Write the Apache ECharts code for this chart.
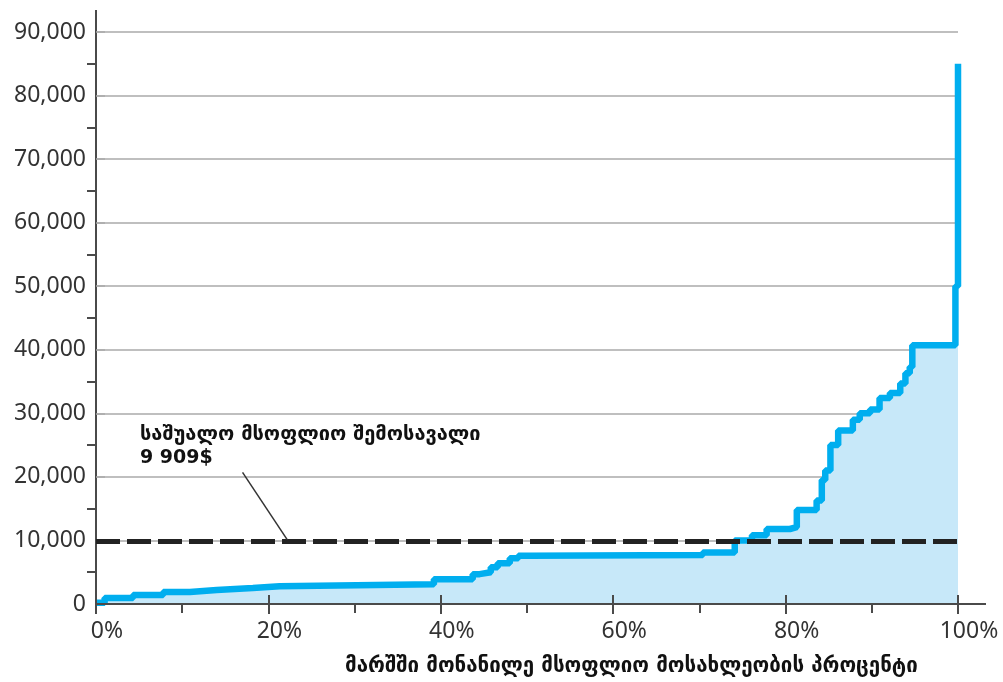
<!DOCTYPE html>
<html>
<head>
<meta charset="utf-8">
<script src="https://cdn.jsdelivr.net/npm/echarts@6/dist/echarts.min.js"></script>
<style>
  html, body { margin: 0; padding: 0; background: #fff; }
  #container { width: 1003px; height: 682px; }
</style>
</head>
<body>
<div id="container"></div>
<script>
let chart = echarts.init(document.getElementById('container'));

// share of world population (%), start of each income step
var popPct = [0, 1.0, 4.3, 7.8, 10.9, 14.0, 18.2, 21.3, 39.2, 43.7, 44.5, 45.8, 46.6, 48.0, 49.0,
    50.3, 70.4, 74.1, 76.1, 77.8, 80.5, 81.3, 83.6, 84.2, 84.6, 85.2, 86.1, 87.8, 88.6, 89.8,
    90.9, 92.1, 93.3, 93.9, 94.4, 94.7, 99.7, 100];
// income level of that step ($)
var income = [200, 950, 1400, 1900, 2200, 2500, 2800, 3100, 3900, 4700, 5000, 5800, 6400, 7200, 7600,
    7700, 8100, 10000, 10800, 11800, 12100, 14800, 16300, 19500, 21000, 25000, 27300, 29000, 30000, 30600,
    32400, 33200, 34700, 36300, 37300, 40700, 50000, 85000];

var avgIncome = 9909;
var avgLabel = ['საშუალო მსოფლიო შემოსავალი', '9 909$'];
var xTitle = 'მარშში მონანილე მსოფლიო მოსახლეობის პროცენტი';
// pointer from the label to the dashed line
var pointerFrom = [17.0, 20700];
var pointerTo = [22.2, 10100];

var points = [];
for (var i in popPct) {
    points.push([popPct[i], income[i]]);
}

var labelFont = 'Noto Sans';
var geoFont = 'DejaVu Sans';
var axisColor = '#4a4a4a';
var gridColor = '#aaaaaa';
var plotBox = { left: 96, right: 45, top: 32, bottom: 78 };

var option = {
    animation: false,
    grid: [plotBox, Object.assign({}, plotBox)],
    xAxis: [{
        type: 'value',
        min: 0,
        max: 100,
        interval: 20,
        z: 10,
        splitLine: { show: false },
        axisLine: { lineStyle: { color: axisColor, width: 2 } },
        axisTick: { show: true, length: 10, lineStyle: { color: axisColor, width: 2 } },
        axisLabel: {
            formatter: function(v) { return v + '%'; },
            fontFamily: labelFont,
            fontSize: 23,
            color: '#333',
            margin: 16,
            padding: [0, 0, 0, 22],
        },
    }, {
        // inner ticks on a twin grid, drawn over the filled area
        gridIndex: 1,
        type: 'value',
        min: 0,
        max: 100,
        interval: 20,
        z: 10,
        splitLine: { show: false },
        axisLine: { show: false },
        axisLabel: { show: false },
        axisTick: { show: true, inside: true, length: 9, lineStyle: { color: axisColor, width: 2 } },
        minorTick: { show: true, splitNumber: 2, length: -9, lineStyle: { color: axisColor, width: 2 } },
    }],
    yAxis: [{
        type: 'value',
        min: 0,
        max: 90000,
        interval: 10000,
        axisLine: { show: true, lineStyle: { color: axisColor, width: 2 } },
        axisTick: { show: true, inside: true, length: 9, lineStyle: { color: gridColor, width: 1.5 } },
        minorTick: { show: true, splitNumber: 2, length: -9, lineStyle: { color: axisColor, width: 2 } },
        splitLine: { lineStyle: { color: gridColor, width: 1.5 } },
        axisLabel: {
            formatter: function(v) { return v.toLocaleString('en-US'); },
            fontFamily: labelFont,
            fontSize: 23,
            color: '#333',
            margin: 10,
        },
    }, {
        gridIndex: 1,
        type: 'value',
        min: 0,
        max: 1,
        show: false,
    }],
    series: [{
        type: 'line',
        step: 'end',
        data: points,
        symbol: 'none',
        lineStyle: { color: '#00aeef', width: 6.5 },
        areaStyle: { color: '#c7e8f9', opacity: 1 },
        markLine: {
            silent: true,
            symbol: ['none', 'none'],
            label: { show: false },
            data: [
                {
                    yAxis: avgIncome,
                    lineStyle: { color: '#222', width: 5, type: [24, 7] },
                },
                [
                    { coord: pointerFrom, lineStyle: { color: '#333', width: 1.5, type: 'solid' } },
                    { coord: pointerTo },
                ],
            ],
        },
    }],
    graphic: [
        // axis lines run a little past the plot
        { type: 'line', shape: { x1: 96, y1: 10, x2: 96, y2: 33 }, style: { stroke: axisColor, lineWidth: 2 } },
        { type: 'line', shape: { x1: 957, y1: 604, x2: 986, y2: 604 }, style: { stroke: axisColor, lineWidth: 2 } },
        {
            type: 'text', left: 140, top: 425,
            style: { text: avgLabel[0], font: 'bold 20px "' + geoFont + '"', fill: '#111' },
        },
        {
            type: 'text', left: 140, top: 449,
            style: { text: avgLabel[1], font: 'bold 19px "' + geoFont + '"', fill: '#111' },
        },
        {
            type: 'text', left: 345, top: 656,
            style: { text: xTitle, font: 'bold 20.5px "' + geoFont + '"', fill: '#111' },
        },
    ],
};

chart.setOption(option);
</script>
</body>
</html>
